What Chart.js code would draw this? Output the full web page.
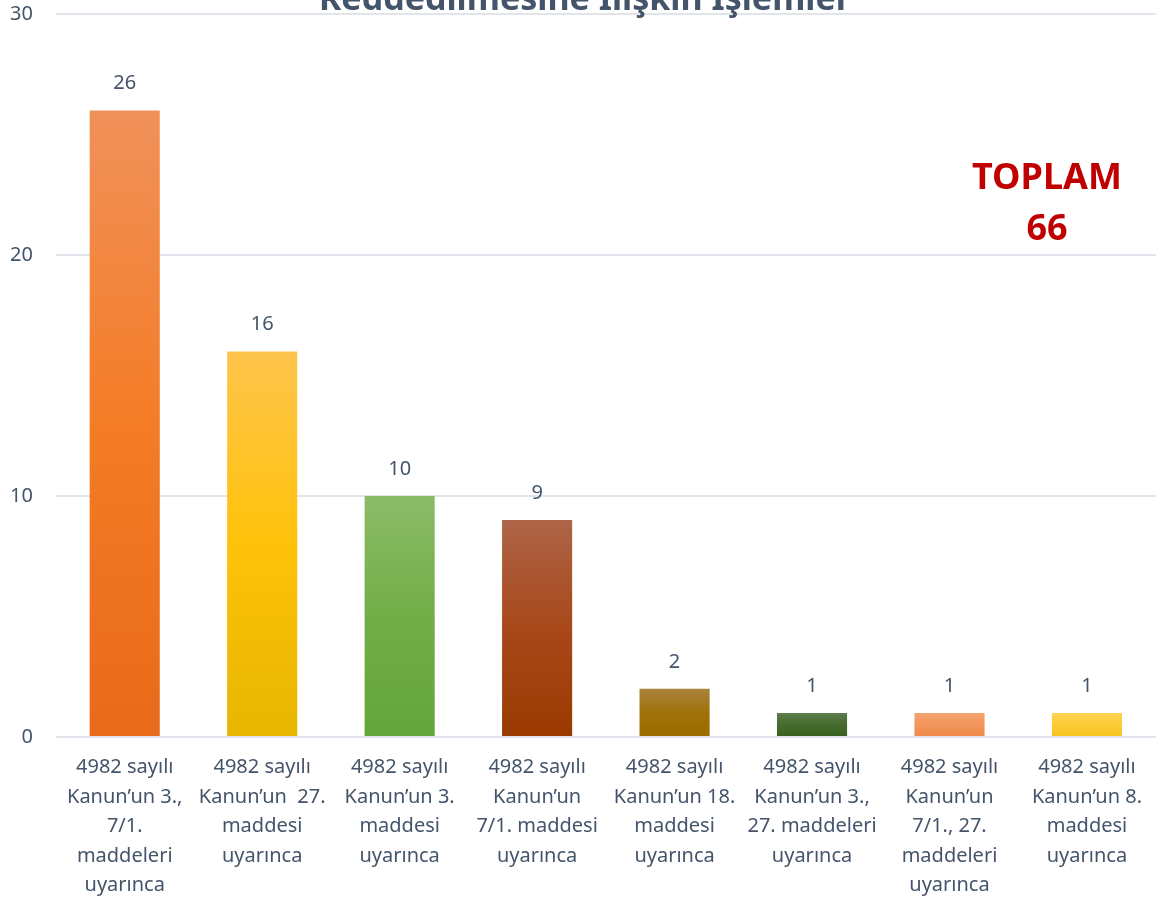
<!DOCTYPE html>
<html>
<head>
<meta charset="utf-8">
<script src="https://cdn.jsdelivr.net/npm/chart.js@4/dist/chart.umd.min.js"></script>
<style>
  html, body { margin: 0; padding: 0; background: #fff; overflow: hidden; }
  /* the chart is pulled up so the title sits mostly above the picture */
  #wrap { position: relative; width: 1158px; height: 925px; margin-top: -21px; }
</style>
</head>
<body>
<div id="wrap"><canvas id="chart"></canvas></div>
<script>
// Chart data
var TITLE = 'Reddedilmesine İlişkin İşlemler';
var CATEGORIES = [
  ['4982 sayılı', 'Kanun’un 3.,', '7/1.', 'maddeleri', 'uyarınca'],
  ['4982 sayılı', 'Kanun’un  27.', 'maddesi', 'uyarınca'],
  ['4982 sayılı', 'Kanun’un 3.', 'maddesi', 'uyarınca'],
  ['4982 sayılı', 'Kanun’un', '7/1. maddesi', 'uyarınca'],
  ['4982 sayılı', 'Kanun’un 18.', 'maddesi', 'uyarınca'],
  ['4982 sayılı', 'Kanun’un 3.,', '27. maddeleri', 'uyarınca'],
  ['4982 sayılı', 'Kanun’un', '7/1., 27.', 'maddeleri', 'uyarınca'],
  ['4982 sayılı', 'Kanun’un 8.', 'maddesi', 'uyarınca']
];
var VALUES = [26, 16, 10, 9, 2, 1, 1, 1];
var TOTAL_LINES = ['TOPLAM', '66'];

// Bar gradients: top / middle / bottom
var BAR_GRADIENTS = [
  ['#F0915A', '#F47C26', '#E86A1A'],
  ['#FEC54C', '#FFC20A', '#E6B600'],
  ['#8BBB68', '#72AE47', '#64A53A'],
  ['#AE6548', '#A8481A', '#9A3A00'],
  ['#A8823C', '#A07208', '#9A6B00'],
  ['#5E7E4E', '#456B2E', '#3A6020'],
  ['#F4A36F', '#F2955A', '#F0894A'],
  ['#FFD452', '#FCCB36', '#F5C41F']
];

var TEXT_COLOR = '#44546A';
var FONT = "'Noto Sans', sans-serif";

function barFill(ctx) {
  var chart = ctx.chart;
  var area = chart.chartArea;
  if (!area || ctx.type !== 'data') return BAR_GRADIENTS[0][1];
  var g = BAR_GRADIENTS[ctx.dataIndex % BAR_GRADIENTS.length];
  var y = chart.scales.y;
  var top = y.getPixelForValue(VALUES[ctx.dataIndex]);
  var bottom = y.getPixelForValue(0);
  if (!isFinite(top) || bottom - top < 1) return g[1];
  var grad = chart.ctx.createLinearGradient(0, top, 0, bottom);
  grad.addColorStop(0, g[0]);
  grad.addColorStop(0.5, g[1]);
  grad.addColorStop(1, g[2]);
  return grad;
}

// Draws the value above each bar, the cut-off title and the total box
var overlayPlugin = {
  id: 'overlay',
  afterDatasetsDraw: function(chart) {
    var c = chart.ctx;
    var meta = chart.getDatasetMeta(0);
    var top = chart.chartArea.top;
    c.save();
    c.fillStyle = TEXT_COLOR;
    c.font = '20px ' + FONT;
    c.textAlign = 'center';
    c.textBaseline = 'middle';
    meta.data.forEach(function(bar, i) {
      c.fillText(String(VALUES[i]), bar.x, bar.y - 27);
    });

    // title (mostly outside the picture)
    c.font = 'bold 34px ' + FONT;
    c.textBaseline = 'alphabetic';
    c.fillText(TITLE, 585, top - 4);

    // total
    c.fillStyle = '#C00000';
    c.font = 'bold 36px ' + FONT;
    c.textBaseline = 'middle';
    c.fillText(TOTAL_LINES[0], 1047, top + 165);
    c.fillText(TOTAL_LINES[1], 1047, top + 216);
    c.restore();
  }
};

new Chart(document.getElementById('chart'), {
  type: 'bar',
  data: {
    labels: CATEGORIES,
    datasets: [{
      data: VALUES,
      backgroundColor: barFill,
      borderWidth: 0,
      barPercentage: 0.51,
      categoryPercentage: 1.0
    }]
  },
  options: {
    responsive: true,
    maintainAspectRatio: false,
    animation: false,
    layout: { padding: { top: 13, right: 0, left: 0, bottom: 0 } },
    plugins: {
      legend: { display: false },
      tooltip: { enabled: false },
      title: { display: false }
    },
    scales: {
      x: {
        grid: { display: false, drawTicks: false },
        border: { display: false },
        ticks: {
          color: TEXT_COLOR,
          font: { family: FONT, size: 20, lineHeight: 1.475 },
          padding: 16,
          maxRotation: 0,
          autoSkip: false
        },
        afterFit: function(scale) { scale.height = 167; }
      },
      y: {
        min: 0,
        max: 30,
        grid: { color: '#E1E5EB', lineWidth: 2, drawTicks: false },
        border: { display: false },
        ticks: {
          stepSize: 10,
          color: TEXT_COLOR,
          font: { family: FONT, size: 20 },
          padding: 23
        },
        afterFit: function(scale) { scale.width = 56; }
      }
    }
  },
  plugins: [overlayPlugin]
});
</script>
</body>
</html>
